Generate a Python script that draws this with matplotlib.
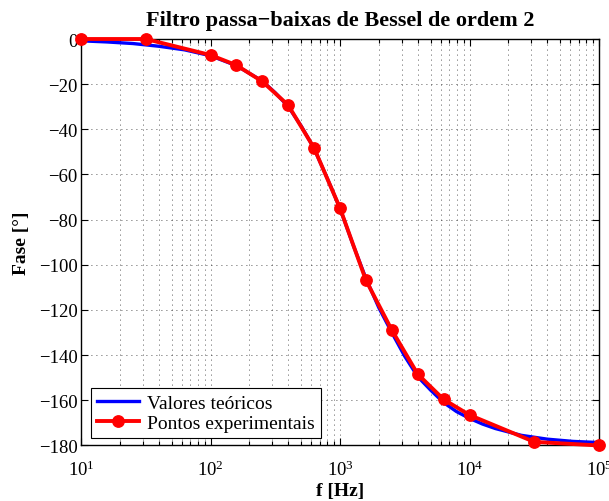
import matplotlib
matplotlib.use("Agg")
import matplotlib.pyplot as plt
from matplotlib.ticker import LogLocator, MultipleLocator, NullFormatter

plt.rcParams['font.family'] = ['Liberation Serif', 'DejaVu Serif']
plt.rcParams['mathtext.fontset'] = 'custom'
plt.rcParams['mathtext.rm'] = 'Liberation Serif'
plt.rcParams['mathtext.it'] = 'Liberation Serif:italic'
plt.rcParams['mathtext.bf'] = 'Liberation Serif:bold'

# Theoretical curve
f_theo = [10, 15.85, 25.12, 39.81, 63.10, 100, 158.5, 251.2, 316.2, 398.1, 501.2,
          631.0, 794.3, 1000, 1259, 1585, 1995, 2512, 3162, 3981, 5012, 6310,
          7943, 10000, 12589, 15849, 25119, 39811, 63096, 100000]
phase_theo = [-0.8, -1.3, -2.0, -3.2, -4.8, -7.4, -11.8, -18.6, -23.8, -29.9, -38.5,
              -48.5, -61.5, -75.0, -91.0, -106.0, -119.0, -130.0, -140.5, -149.5,
              -155.5, -161.0, -165.0, -168.0, -170.5, -172.5, -175.5, -177.2,
              -178.2, -178.7]

# Experimental points
f_exp = [10, 31.62, 100, 158.5, 251.2, 398.1, 631.0, 1000, 1585, 2512, 3981,
         6310, 10000, 31623, 100000]
phase_exp = [0, 0, -7.1, -11.6, -18.8, -29.3, -48.3, -74.9, -106.8, -128.9,
             -148.4, -159.6, -166.5, -178.4, -180.0]

title = "Filtro passa\u2212baixas de Bessel de ordem 2"
xlabel = "f [Hz]"
ylabel = "Fase [\u00b0]"
labels = ["Valores te\u00f3ricos", "Pontos experimentais"]

fig = plt.figure(figsize=(6.09, 5.02), dpi=100)
ax = fig.add_axes([0.133, 0.1106, 0.8506, 0.8097])

ax.semilogx(f_theo, phase_theo, color='#0000ff', lw=2.4, label=labels[0], zorder=3)
ax.semilogx(f_exp, phase_exp, color='#ff0000', lw=2.8, marker='o', ms=8.2, mew=1,
            label=labels[1], zorder=4, clip_on=False)

ax.set_xlim(10, 1e5)
ax.set_ylim(-180, 0)
ax.yaxis.set_major_locator(MultipleLocator(20))
ax.xaxis.set_major_locator(LogLocator(base=10, numticks=10))
ax.xaxis.set_minor_locator(LogLocator(base=10, subs=range(2, 10), numticks=20))
ax.xaxis.set_minor_formatter(NullFormatter())

grid_style = dict(color='#222222', linestyle=(0, (1, 5)), lw=0.6)
ax.grid(True, which='major', axis='both', **grid_style)
ax.grid(True, which='minor', axis='x', **grid_style)

ax.tick_params(which='both', direction='in', top=True, right=True, labelsize=13.5, width=0.8)
ax.tick_params(which='major', length=5)
ax.tick_params(which='minor', length=3)
ax.tick_params(axis='y', pad=2.5)
ax.tick_params(axis='x', pad=10.5)
for s in ax.spines.values():
    s.set_linewidth(1.0)

ax.set_title(title, fontsize=16, fontweight='bold', pad=10)
ax.set_xlabel(xlabel, fontsize=14, fontweight='bold', labelpad=2)
ax.set_ylabel(ylabel, fontsize=14, fontweight='bold', labelpad=6)

leg = ax.legend(loc='lower left', bbox_to_anchor=(0.0187, 0.0185), fontsize=14,
                fancybox=False, framealpha=1, edgecolor='black', borderaxespad=0,
                handlelength=2.2, borderpad=0.3, labelspacing=0.15, handletextpad=0.4)
leg.get_frame().set_linewidth(0.8)

fig.savefig('out.png', dpi=100, facecolor='white')
